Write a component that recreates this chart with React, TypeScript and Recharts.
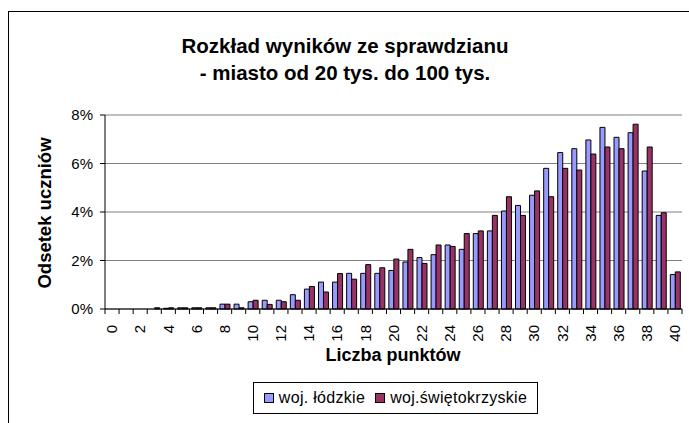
import { Bar, BarChart, CartesianGrid, XAxis, YAxis } from "recharts";

// liczba punktów 0..40
const points = [
  0, 1, 2, 3, 4, 5, 6, 7, 8, 9, 10, 11, 12, 13, 14, 15, 16, 17, 18, 19, 20,
  21, 22, 23, 24, 25, 26, 27, 28, 29, 30, 31, 32, 33, 34, 35, 36, 37, 38, 39, 40,
];

// odsetek uczniów (%)
const lodzkie = [
  0, 0, 0, 0, 0.03, 0.05, 0.05, 0.05, 0.2, 0.2, 0.3, 0.36, 0.36, 0.59, 0.82,
  1.11, 1.11, 1.47, 1.47, 1.47, 1.59, 1.94, 2.12, 2.24, 2.64, 2.46, 3.11, 3.22,
  4.04, 4.27, 4.69, 5.8, 6.45, 6.61, 6.97, 7.49, 7.08, 7.27, 5.69, 3.86, 1.42,
];

const swietokrzyskie = [
  0, 0, 0, 0.05, 0.05, 0.05, 0.05, 0.05, 0.2, 0.05, 0.36, 0.19, 0.3, 0.36, 0.93,
  0.7, 1.46, 1.23, 1.83, 1.7, 2.06, 2.46, 1.88, 2.64, 2.58, 3.11, 3.22, 3.86,
  4.63, 3.86, 4.87, 4.63, 5.8, 5.73, 6.39, 6.68, 6.61, 7.62, 6.68, 3.97, 1.53,
];

const yTicks = [0, 2, 4, 6, 8];

const series = [
  { key: "lodzkie", name: "woj. łódzkie", color: "#9999FF" },
  { key: "swietokrzyskie", name: "woj.świętokrzyskie", color: "#993366" },
];

const data = points.map((p, i) => ({
  p,
  lodzkie: lodzkie[i],
  swietokrzyskie: swietokrzyskie[i],
}));

const font = "'Liberation Sans', Arial, sans-serif";

function XTick(props: any) {
  const { x, y, payload, index, width } = props;
  const half = payload?.offset ?? width / points.length / 2;
  const top = y - 5;
  return (
    <g>
      <line x1={x - half} x2={x - half} y1={top} y2={top + 5} stroke="#000" />
      {index === points.length - 1 && (
        <line x1={x + half} x2={x + half} y1={top} y2={top + 5} stroke="#000" />
      )}
      {payload.value % 2 === 0 && (
        <text
          x={x}
          y={y + 11}
          dy="0.35em"
          textAnchor="end"
          transform={`rotate(-90, ${x}, ${y + 11})`}
          fontSize={15}
          fontFamily={font}
          fill="#000"
        >
          {payload.value}
        </text>
      )}
    </g>
  );
}

export default function App() {
  return (
    <div
      style={{
        position: "absolute",
        left: 0,
        top: 0,
        width: 689,
        height: 423,
        overflow: "hidden",
        background: "#fff",
        fontFamily: font,
      }}
    >
      <BarChart
        width={689}
        height={423}
        data={data}
        margin={{ top: 115, right: 7, bottom: 74, left: 55 }}
        barCategoryGap="17%"
        barGap={0}
      >
        <CartesianGrid stroke="#808080" vertical={false} />
        <XAxis
          dataKey="p"
          height={40}
          interval={0}
          tickLine={false}
          tickSize={5}
          tickMargin={0}
          axisLine={{ stroke: "#000" }}
          tick={<XTick />}
        />
        <YAxis
          width={50}
          domain={[0, 8]}
          ticks={yTicks}
          tickFormatter={(v) => `${v}%`}
          tickSize={5}
          tickMargin={7}
          axisLine={{ stroke: "#000" }}
          tickLine={{ stroke: "#000" }}
          tick={{ fill: "#000", fontSize: 15, fontFamily: font }}
        />
        <YAxis
          yAxisId="r"
          orientation="right"
          width={0}
          domain={[0, 8]}
          tick={false}
          tickLine={false}
          axisLine={{ stroke: "#808080" }}
        />
        {series.map((s) => (
          <Bar
            key={s.key}
            dataKey={s.key}
            name={s.name}
            fill={s.color}
            stroke="#000"
            strokeWidth={1}
            isAnimationActive={false}
          />
        ))}
      </BarChart>

      <svg
        width={689}
        height={423}
        style={{ position: "absolute", left: 0, top: 0, pointerEvents: "none" }}
      >
        <rect x={8.5} y={11.5} width={700} height={500} fill="none" stroke="#000" />
        <text
          x={345}
          y={53}
          textAnchor="middle"
          fontSize={20.5}
          fontWeight="bold"
          fontFamily={font}
        >
          Rozkład wyników ze sprawdzianu
        </text>
        <text
          x={345}
          y={80}
          textAnchor="middle"
          fontSize={20.5}
          fontWeight="bold"
          fontFamily={font}
        >
          - miasto od 20 tys. do 100 tys.
        </text>
        <text
          x={393}
          y={361}
          textAnchor="middle"
          fontSize={18}
          fontWeight="bold"
          fontFamily={font}
        >
          Liczba punktów
        </text>
        <text
          x={51}
          y={213}
          textAnchor="middle"
          fontSize={18.5}
          fontWeight="bold"
          fontFamily={font}
          transform="rotate(-90, 51, 213)"
        >
          Odsetek uczniów
        </text>
      </svg>

      <div
        style={{
          position: "absolute",
          left: 253,
          top: 382,
          width: 285,
          height: 32,
          border: "1px solid #000",
          display: "flex",
          alignItems: "center",
          justifyContent: "center",
          gap: 10,
          fontSize: 16,
          letterSpacing: 0.3,
          boxSizing: "border-box",
        }}
      >
        {series.map((s) => (
          <span key={s.key} style={{ display: "flex", alignItems: "center" }}>
            <span
              style={{
                display: "inline-block",
                width: 8,
                height: 8,
                background: s.color,
                border: "1px solid #000",
                marginRight: 5,
              }}
            />
            {s.name}
          </span>
        ))}
      </div>
    </div>
  );
}
